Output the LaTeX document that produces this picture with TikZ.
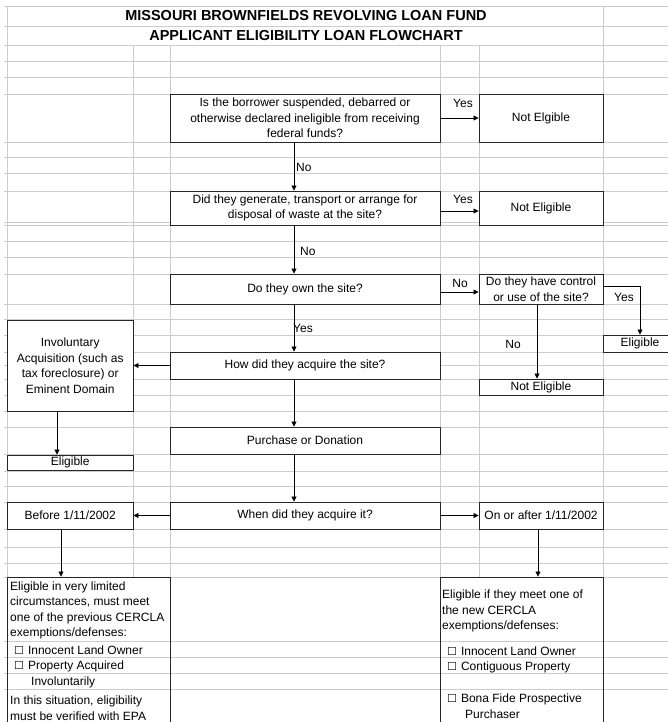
\documentclass[tikz,border=0pt]{standalone}
\usepackage{fontspec}
\setmainfont{Liberation Sans}
\newfontfamily\ckfont{DejaVu Sans}
\usepackage{tikz}
\usetikzlibrary{arrows.meta}

\newcommand{\cellfont}{\fontsize{12}{15.5}\selectfont}
\newcommand{\chk}{{\ckfont\fontsize{11}{11}\selectfont\char"2610}}

\tikzset{
  sheet/.style={draw=black!20, line width=0.8pt},
  box/.style={draw=black!85, fill=white, line width=0.9pt, inner sep=0pt, align=center, font=\cellfont},
  panel/.style={draw=black!85, line width=0.9pt, inner sep=0pt},
  lbl/.style={inner sep=0pt, font=\cellfont},
  ttl/.style={inner sep=0pt, font=\fontsize{14.5}{18}\selectfont\bfseries},
  arr/.style={-{Triangle[length=5pt,width=5pt]}, line width=0.8pt}
}

\begin{document}
\begin{tikzpicture}[x=1pt, y=-1pt]
\useasboundingbox (0,0) rectangle (668,722);
\clip (0,0) rectangle (668,722);
\fill[white] (0,0) rectangle (668,722);

\foreach \r in {6,26,45,61,77,94,142,157,173,191,222,225,241,257,274,304,319,335,352,365,379,395,411,427,454,471,486,502,529,547,563,577,641,657,673,689}
  \draw[sheet] (4,\r) -- (668,\r);
\foreach \c in {133,170,440,479}
  \draw[sheet] (\c,45) -- (\c,577);
\draw[sheet] (7.5,6) -- (7.5,722);
\draw[sheet] (603,6) -- (603,722);

\node[ttl] (ttl1) at (306,16) {MISSOURI BROWNFIELDS REVOLVING LOAN FUND};
\node[ttl] (ttl2) at (306,35.5) {APPLICANT ELIGIBILITY LOAN FLOWCHART};

\node[box, minimum width=270pt, minimum height=48pt] (q1) at (305,118) {Is the borrower suspended, debarred or\\otherwise declared ineligible from receiving\\federal funds?};
\node[box, minimum width=124pt, minimum height=48pt] (ne1) at (541,118) {Not Elgible};
\node[box, minimum width=270pt, minimum height=34pt] (q2) at (305,208) {Did they generate, transport or arrange for\\disposal of waste at the site?};
\node[box, minimum width=124pt, minimum height=34pt] (ne2) at (541,208) {Not Eligible};
\node[box, minimum width=270pt, minimum height=30pt] (q3) at (305,289) {Do they own the site?};
\node[box, minimum width=124pt, minimum height=30pt] (ctl) at (541,289) {Do they have control\\or use of the site?};
\node[box, minimum width=74pt, minimum height=17pt] (elr) at (640,343.5) {Eligible};
\node[box, minimum width=124pt, minimum height=16pt] (nel) at (541,387) {Not Eligible};
\node[box, minimum width=270pt, minimum height=27pt] (q4) at (305,365.5) {How did they acquire the site?};
\node[box, minimum width=125.5pt, minimum height=91pt] (inv) at (70.25,365.5) {Involuntary\\Acquisition (such as\\tax foreclosure) or\\Eminent Domain};
\node[box, minimum width=270pt, minimum height=27pt] (pur) at (305,440.5) {Purchase or Donation};
\node[box, minimum width=125.5pt, minimum height=15pt] (ell) at (70.25,462.5) {Eligible};
\node[box, minimum width=270pt, minimum height=27pt] (when) at (305,515.5) {When did they acquire it?};
\node[box, minimum width=125.5pt, minimum height=27pt] (bef) at (70.25,515.5) {Before 1/11/2002};
\node[box, minimum width=124pt, minimum height=27pt] (aft) at (541,515.5) {On or after 1/11/2002};
\node[panel, minimum width=162.5pt, minimum height=153pt] (bl) at (88.75,653.5) {};
\node[panel, minimum width=163pt, minimum height=153pt] (br) at (521.5,653.5) {};

\node[lbl, anchor=west, align=left] (bltop) at (10,610.5) {Eligible in very limited\\circumstances, must meet\\one of the previous CERCLA\\exemptions/defenses:};
\node[lbl, anchor=west] (bl1) at (14,650) {\chk\hspace{4pt}Innocent Land Owner};
\node[lbl, anchor=west] (bl2) at (14,666) {\chk\hspace{4pt}Property Acquired};
\node[lbl, anchor=west] (bl3) at (31,682) {Involuntarily};
\node[lbl, anchor=west, align=left] (blnote) at (10,708) {In this situation, eligibility\\must be verified with EPA};
\node[lbl, anchor=west, align=left] (brtop) at (442,611) {Eligible if they meet one of\\the new CERCLA\\exemptions/defenses:};
\node[lbl, anchor=west] (br1) at (447,651) {\chk\hspace{4pt}Innocent Land Owner};
\node[lbl, anchor=west] (br2) at (447,667) {\chk\hspace{4pt}Contiguous Property};
\node[lbl, anchor=west] (br3) at (447,699) {\chk\hspace{4pt}Bona Fide Prospective};
\node[lbl, anchor=west] (br4) at (465,714) {Purchaser};

\coordinate (spine) at (294,0);
\coordinate (yescol) at (640,0);
\coordinate (nocol) at (537,0);
\coordinate (invcol) at (57,0);
\coordinate (befcol) at (61,0);
\coordinate (aftcol) at (538,0);

\draw[arr] (q1.east) -- (ne1.west);
\draw[arr] ([yshift=-3pt]q2.east) -- ([yshift=-3pt]ne2.west);
\draw[arr] ([yshift=-3pt]q3.east) -- ([yshift=-3pt]ctl.west);
\draw[arr] ([yshift=3pt]ctl.east) -| (yescol |- elr.north);
\draw[arr] (ctl.south -| nocol) -- (nel.north -| nocol);
\draw[arr] (q1.south -| spine) -- (q2.north -| spine);
\draw[arr] (q2.south -| spine) -- (q3.north -| spine);
\draw[arr] (q3.south -| spine) -- (q4.north -| spine);
\draw[arr] (q4.south -| spine) -- (pur.north -| spine);
\draw[arr] (pur.south -| spine) -- (when.north -| spine);
\draw[arr] (q4.west) -- (inv.east);
\draw[arr] (inv.south -| invcol) -- (ell.north -| invcol);
\draw[arr] (when.west) -- (bef.east);
\draw[arr] (when.east) -- (aft.west);
\draw[arr] (bef.south -| befcol) -- (bl.north -| befcol);
\draw[arr] (aft.south -| aftcol) -- (br.north -| aftcol);

\node[lbl] (yes1) at (463,103) {Yes};
\node[lbl] (yes2) at (463,199) {Yes};
\node[lbl, anchor=west] (no1) at (296,167) {No};
\node[lbl, anchor=west] (no2) at (300,251) {No};
\node[lbl] (no3) at (460,283) {No};
\node[lbl] (yes3) at (624,297) {Yes};
\node[lbl] (no4) at (513,344) {No};
\node[lbl, anchor=west] (yes4) at (293,328) {Yes};
\end{tikzpicture}
\end{document}
